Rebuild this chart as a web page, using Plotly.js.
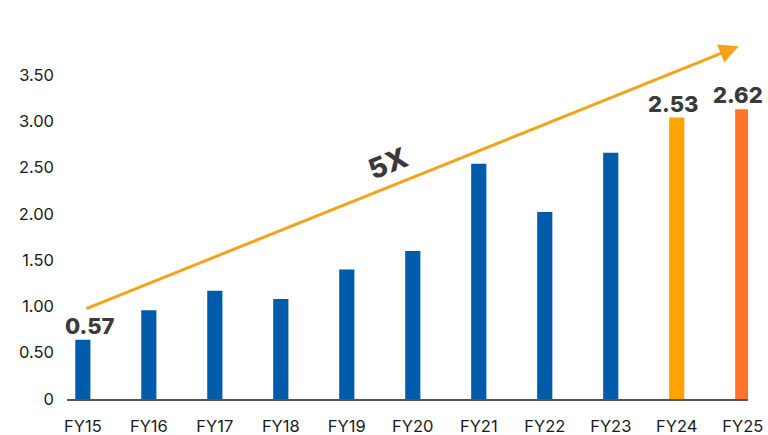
<!DOCTYPE html>
<html>
<head>
<meta charset="utf-8">
<script src="https://cdn.plot.ly/plotly-3.0.1.min.js"></script>
<style>html,body{margin:0;padding:0;background:#fff;}#chart{width:768px;height:435px;}</style>
</head>
<body>
<div id="chart"></div>
<script>
// Data
const categories = ["FY15","FY16","FY17","FY18","FY19","FY20","FY21","FY22","FY23","FY24","FY25"];
const barValues  = [0.64, 0.96, 1.17, 1.08, 1.40, 1.60, 2.54, 2.02, 2.66, 3.04, 3.13];
const barColors  = ["#005BAA","#005BAA","#005BAA","#005BAA","#005BAA","#005BAA","#005BAA","#005BAA","#005BAA","#FFA300","#FF7426"];
const dataLabels = ["0.57","","","","","","","","","2.53","2.62"];
const yTickVals  = [0, 0.5, 1.0, 1.5, 2.0, 2.5, 3.0, 3.5];
const yTickText  = ["0","0.50","1.00","1.50","2.00","2.50","3.00","3.50"];
const growthText = "5X";

const labelFont = {family: "Inter, 'Open Sans', sans-serif", size: 22, color: "#3a3a3a", weight: 800};

const annotations = [];
dataLabels.forEach((t, i) => {
  if (!t) return;
  annotations.push({
    x: categories[i], y: barValues[i], xref: "x", yref: "y",
    text: t, showarrow: false, yanchor: "bottom",
    xshift: i === 0 ? 7 : (i === categories.length - 1 ? -5 : -3),
    yshift: -1,
    font: labelFont
  });
});
// trend arrow from first bar to last bar
annotations.push({
  x: 9.94, y: 3.81, xref: "x", yref: "y",
  ax: 0.03, ay: 0.97, axref: "x", ayref: "y",
  text: "", showarrow: true,
  arrowhead: 2, arrowsize: 1.3, arrowwidth: 3, arrowcolor: "#F5A31A", standoff: 0
});
annotations.push({
  x: 4.63, y: 2.55, xref: "x", yref: "y",
  text: growthText, showarrow: false, textangle: -22,
  font: {family: "Inter, 'Open Sans', sans-serif", size: 28, color: "#3a3a3a", weight: 800}
});

const trace = {
  type: "bar",
  x: categories,
  y: barValues,
  marker: {color: barColors},
  width: 0.23,
  hoverinfo: "x+y"
};

const layout = {
  width: 768, height: 435,
  margin: {l: 67, r: 20, t: 40, b: 36},
  paper_bgcolor: "#ffffff",
  plot_bgcolor: "#ffffff",
  showlegend: false,
  xaxis: {
    type: "category",
    range: [-0.24, 10.08],
    showgrid: false, zeroline: false,
    showline: true, linecolor: "#555555", linewidth: 2,
    ticks: "", ticklabelstandoff: 11,
    tickfont: {family: "Inter, 'Open Sans', sans-serif", size: 16.5, color: "#1a1a1a"}
  },
  yaxis: {
    range: [0, 3.878],
    showgrid: false, zeroline: false, showline: false,
    tickvals: yTickVals, ticktext: yTickText,
    ticks: "", ticklabelstandoff: 12,
    tickfont: {family: "Inter, 'Open Sans', sans-serif", size: 16.5, color: "#1a1a1a"}
  },
  annotations: annotations
};

Plotly.newPlot("chart", [trace], layout, {displayModeBar: false, staticPlot: true});
</script>
</body>
</html>
